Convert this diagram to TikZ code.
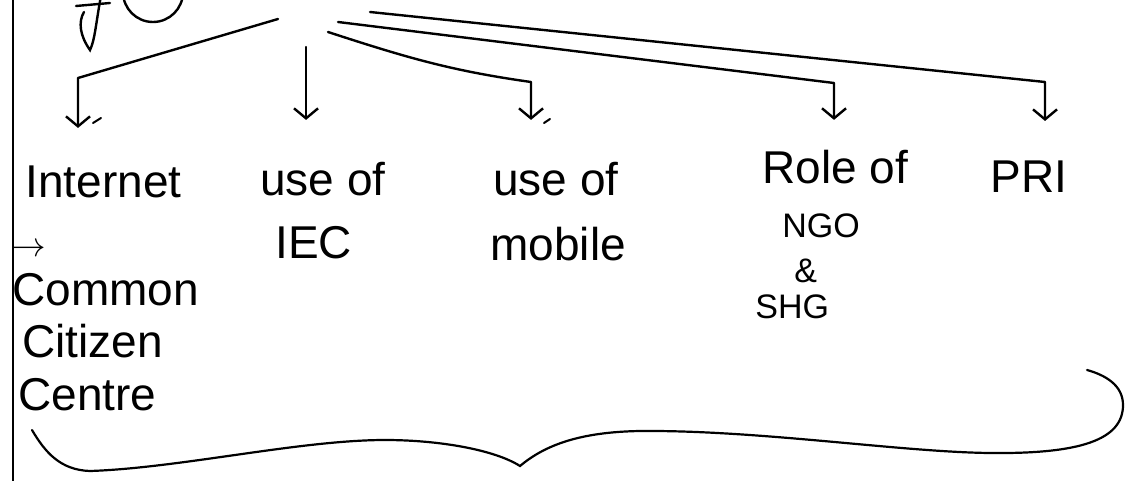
\documentclass[tikz,border=0pt]{standalone}
\usepackage{fontspec}
\setmainfont{Liberation Sans}
\usetikzlibrary{arrows.meta}

\tikzset{
  lbl/.style={inner sep=0pt, anchor=base west, font=\fontsize{23}{27}\selectfont},
  lblsmall/.style={inner sep=0pt, anchor=base west, font=\fontsize{17}{20}\selectfont},
  branch/.style={-{Straight Barb[length=5pt, width=12pt]}, line width=1.2pt, line join=round},
  pen/.style={line width=1.2pt},
}

\begin{document}
\begin{tikzpicture}[x=0.5pt, y=-0.5pt, line cap=round]
        \useasboundingbox (0,0) rectangle (1128,481);
        % margin line of the page
        \draw[pen] (13,-5) -- (13,490);

        % heading, cut off at the top of the page
        \draw[pen] (76,6) -- (110,3);
        \draw[pen] (101,-4) .. controls (96,22) and (95,40) .. (90,50) .. controls (80,36) and (78,22) .. (84,12);
        \draw[pen] (153,-8) ellipse [x radius=30, y radius=30];

        % points where the branches leave the heading
        \coordinate (h1) at (278,19);
        \coordinate (h2) at (306,47);
        \coordinate (h3) at (328,32);
        \coordinate (h4) at (338,22);
        \coordinate (h5) at (370,12);
        \coordinate (k1) at (78,78);
        \coordinate (k3) at (531,82);
        \coordinate (k4) at (834,83);
        \coordinate (k5) at (1045,82);

        % the five means
        \node[lbl] (inet) at (25,197) {Internet};
        \node[font=\fontsize{17}{20}\selectfont, inner sep=0pt] (ccarrow) at (29,250) {$\rightarrow$};
        \node[lbl] (ccc1) at (12,305) {Common};
        \node[lbl] (ccc2) at (22,357) {Citizen};
        \node[lbl] (ccc3) at (18,410) {Centre};

        \node[lbl] (iec1) at (260,195) {use of};
        \node[lbl] (iec2) at (275,258) {IEC};

        \node[lbl] (mob1) at (493,195) {use of};
        \node[lbl] (mob2) at (490,260) {mobile};

        \node[lbl] (ngo1) at (762,183) {Role of};
        \node[lblsmall] (ngo2) at (782,237) {NGO};
        \node[lblsmall] (ngo3) at (794,282) {\&};
        \node[lblsmall] (ngo4) at (755,318) {SHG};

        \node[lbl] (pri) at (990,192) {PRI};

        % branches
        \draw[branch, shorten >=18.5pt] (h1) -- (k1) -- (k1 |- inet.north);
        \draw[branch, shorten >=20.7pt] (h2) -- (h2 |- iec1.north);
        \draw[branch, shorten >=20.7pt] (h3) to[out=-18, in=172] (k3) -- (k3 |- mob1.north);
        \draw[branch, shorten >=14.7pt] (h4) -- (k4) -- (k4 |- ngo1.north);
        \draw[branch, shorten >=19.5pt] (h5) -- (k5) -- (k5 |- pri.north);
        \draw[line width=1pt] (93,123) -- (101,118);
        \draw[line width=1pt] (544,123) -- (550,119);

        % brace under all of them
        \draw[line width=1.1pt] (32,430) .. controls (45,452) and (60,470) .. (90,471)
            .. controls (180,468) and (300,440) .. (385,440)
            .. controls (440,440) and (495,450) .. (520,466)
            .. controls (545,445) and (580,432) .. (640,431)
            .. controls (760,430) and (900,452) .. (990,453)
            .. controls (1080,454) and (1123,440) .. (1123,405)
            .. controls (1123,385) and (1105,375) .. (1087,370);
    \end{tikzpicture}
\end{document}
